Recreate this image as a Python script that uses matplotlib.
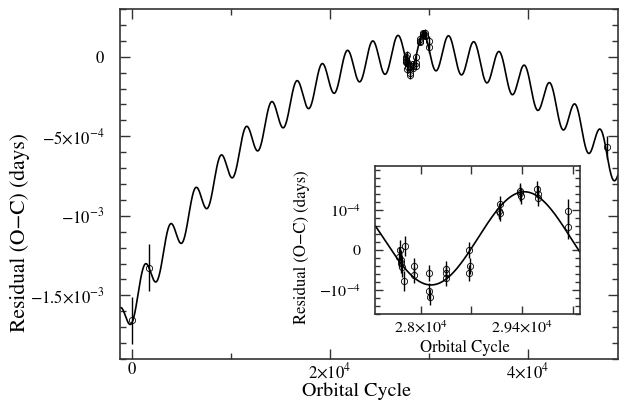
import numpy as np
import matplotlib
matplotlib.use("Agg")
import matplotlib.pyplot as plt
from matplotlib.ticker import MultipleLocator, FixedLocator, FixedFormatter

plt.rcParams['font.family'] = 'STIXGeneral'
plt.rcParams['mathtext.fontset'] = 'stix'

# fitted ephemeris model (parabola + light-travel-time sinusoid)
E_vertex = 29300.0
y_vertex = 0.3e-4
curv = 1.85e-12
amp = 1.15e-4
period = 2560.0
E_peak = 29430.0

# timings shown only in the big panel
main_E = [0, 1717, 47970]
main_oc = [-1.658e-3, -1.325e-3, -5.70e-4]
main_err = [1.5e-4, 1.5e-4, 7e-5]

# timings around the 2.8-3.0e4 window (also drawn in the inset)
ins_E = [27716, 27702, 27725, 27735, 27749, 27780, 27771, 27908, 27908,
         28114, 28114, 28124, 28357, 28357, 28347, 28673, 28677, 28663,
         29089, 29075, 29089, 29373, 29382, 29363, 29602, 29610, 29615,
         30022, 30022]
ins_oc = [0.0, -0.17e-4, -0.25e-4, -0.33e-4, -0.42e-4, 0.10e-4, -0.77e-4,
          -0.40e-4, -0.62e-4, -0.57e-4, -1.02e-4, -1.18e-4, -0.48e-4,
          -0.58e-4, -0.70e-4, 0.0, -0.40e-4, -0.57e-4, 1.14e-4, 0.96e-4,
          0.92e-4, 1.42e-4, 1.35e-4, 1.46e-4, 1.52e-4, 1.39e-4, 1.29e-4,
          0.96e-4, 0.58e-4]
ins_err = [2.5e-5] * 7 + [2e-5] * 20 + [3.2e-5] * 2

main_yticks = [0, -5e-4, -1e-3, -1.5e-3]
main_ylabels = [r'$0$', r'$-5{\times}10^{-4}$', r'$-10^{-3}$', r'$-1.5{\times}10^{-3}$']
main_xticks = [0, 2e4, 4e4]
main_xlabels = [r'$0$', r'$2{\times}10^4$', r'$4{\times}10^4$']
ins_xticks = [28000, 29400]
ins_xlabels = [r'$2.8{\times}10^4$', r'$2.94{\times}10^4$']
ins_yticks = [1e-4, 0, -1e-4]
ins_ylabels = [r'$10^{-4}$', r'$0$', r'$-10^{-4}$']


def model(E):
    return y_vertex - curv * (E - E_vertex) ** 2 + amp * np.cos(2 * np.pi * (E - E_peak) / period)


def style_axes(ax, major_len, minor_len):
    for s in ax.spines.values():
        s.set_linewidth(1.2)
        s.set_color('#333333')
    ax.tick_params(which='both', direction='in', top=True, right=True,
                   color='#333333', width=1.0)
    ax.tick_params(which='major', length=major_len)
    ax.tick_params(which='minor', length=minor_len)


fig = plt.figure(figsize=(6.23, 4.03), dpi=100)
ax = fig.add_axes([0.1926, 0.1092, 0.7994, 0.8685])

xlim = (-1200, 49100)
ee = np.linspace(xlim[0], xlim[1], 3000)
ax.plot(ee, model(ee), color='black', lw=1.2)
pts = dict(fmt='o', ms=4.5, mfc='none', mec='black', mew=0.6,
           ecolor='black', elinewidth=1.0, capsize=0, color='black')
ax.errorbar(main_E, main_oc, yerr=main_err, **pts)
ax.errorbar(ins_E, ins_oc, yerr=ins_err, **pts)
ax.set_xlim(*xlim)
ax.set_ylim(-1.9e-3, 3.0e-4)
ax.xaxis.set_major_locator(FixedLocator(main_xticks))
ax.xaxis.set_major_formatter(FixedFormatter(main_xlabels))
ax.xaxis.set_minor_locator(MultipleLocator(1e4))
ax.yaxis.set_major_locator(FixedLocator(main_yticks))
ax.yaxis.set_major_formatter(FixedFormatter(main_ylabels))
ax.yaxis.set_minor_locator(MultipleLocator(1e-4))
style_axes(ax, 7, 4)
ax.tick_params(labelsize=12)
ax.tick_params(axis='x', pad=2)
ax.tick_params(axis='y', pad=11)
ax.set_xlabel('Orbital Cycle', fontsize=14.5)
ax.set_ylabel('Residual (O\u2212C) (days)', fontsize=15.5)
ax.xaxis.set_label_coords(0.474, -0.066)
ax.yaxis.set_label_coords(-0.18, 0.36)

# inset
axi = fig.add_axes([0.6027, 0.2208, 0.329, 0.368])
xl = (27380, 30200)
ei = np.linspace(xl[0], xl[1], 600)
axi.plot(ei, model(ei), color='black', lw=1.2)
axi.errorbar(ins_E, ins_oc, yerr=ins_err, **pts)
axi.set_xlim(*xl)
axi.set_ylim(-1.6e-4, 2.1e-4)
axi.xaxis.set_major_locator(FixedLocator(ins_xticks))
axi.xaxis.set_major_formatter(FixedFormatter(ins_xlabels))
axi.xaxis.set_minor_locator(MultipleLocator(700))
axi.yaxis.set_major_locator(FixedLocator(ins_yticks))
axi.yaxis.set_major_formatter(FixedFormatter(ins_ylabels))
axi.yaxis.set_minor_locator(MultipleLocator(2e-5))
style_axes(axi, 6, 3.5)
axi.tick_params(which='minor', axis='x', length=6)
axi.tick_params(labelsize=11.5)
axi.tick_params(axis='x', pad=4)
axi.tick_params(axis='y', pad=10)
axi.set_xlabel('Orbital Cycle', fontsize=12)
axi.set_ylabel('Residual (O\u2212C) (days)', fontsize=12)
axi.xaxis.set_label_coords(0.437, -0.178)
axi.yaxis.set_label_coords(-0.32, 0.45)

fig.savefig('out.png', dpi=100)
